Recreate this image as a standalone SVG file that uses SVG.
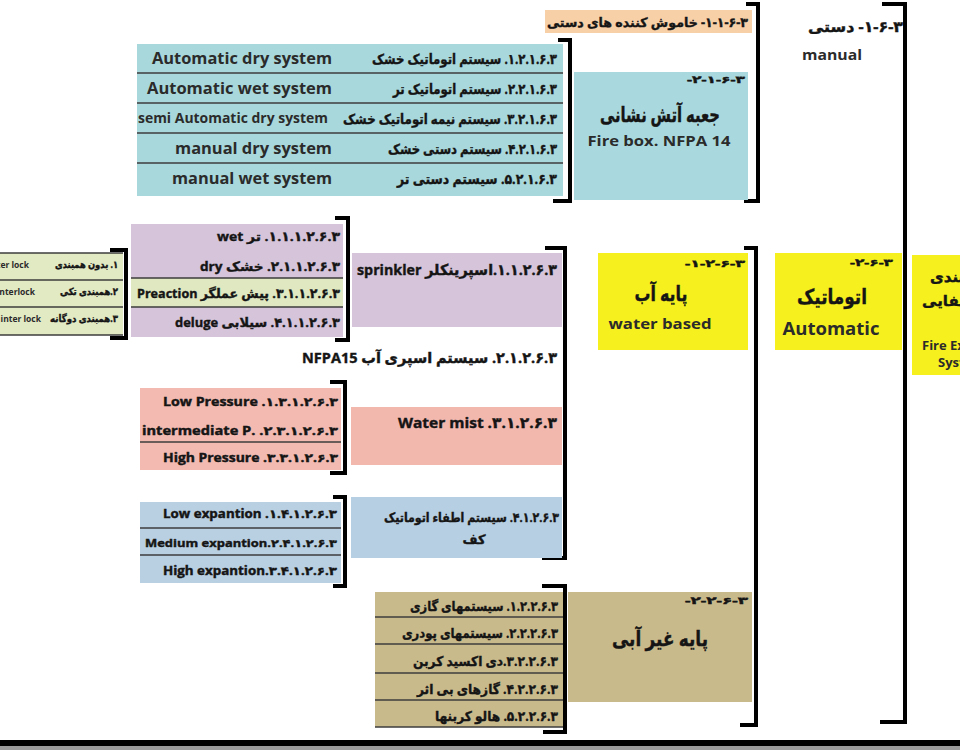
<svg xmlns="http://www.w3.org/2000/svg" width="960" height="750" viewBox="0 0 960 750">
<style>
.t{font-family:'Open Sans','DejaVu Sans',sans-serif;font-weight:700;fill:#151515;stroke:#151515;stroke-width:0.4}
.e{font-family:'Open Sans','Liberation Sans',sans-serif;font-weight:700;fill:#2b2b2b}
.br{fill:none;stroke:#000;stroke-width:4}
.dv{stroke:#3c3c3c;stroke-width:1.6}
.y{fill:#f6f01e}
</style>
<rect width="960" height="750" fill="#fff"/>
<g id="connectors">
<path class="br" d="M746 4H758V201H744"/>
<path class="br" d="M882 4H905V722H880"/>
<path class="br" d="M558 40H570V201H553"/>
<path class="br" d="M335 218H348V340H335"/>
<path class="br" d="M110 250H126V338H110"/>
<path class="br" d="M545 248H565V558H542"/>
<path class="br" d="M330 382H345V473H330"/>
<path class="br" d="M333 497H345V586H333"/>
<path class="br" d="M542 586H565V732H543"/>
<path class="br" d="M744 248H756V725H740"/>
</g>
<g id="handheld">
<rect x="545" y="10" width="207" height="23" fill="#f8d0a8"/>
<text class="t" x="748" y="27" font-size="13" text-anchor="end" textLength="201" lengthAdjust="spacingAndGlyphs">&#x202B;۳&#x200F;-۶&#x200F;-۱&#x200F;-۱&#x200F;- خاموش کننده های دستی&#x202C;</text>
</g>
<g id="manual">
<text class="t" x="903" y="32" font-size="15" text-anchor="end" textLength="95" lengthAdjust="spacingAndGlyphs">&#x202B;۳&#x200F;-۶&#x200F;-۱&#x200F;- دستی&#x202C;</text>
<text class="e" x="832" y="60" font-size="15" font-weight="600" text-anchor="middle" textLength="60" lengthAdjust="spacingAndGlyphs">manual</text>
</g>
<g id="firebox-items">
<rect x="137" y="44" width="426" height="152" fill="#a8d8dc"/>
<line class="dv" x1="137" y1="73" x2="563" y2="73"/>
<line class="dv" x1="137" y1="103" x2="563" y2="103"/>
<line class="dv" x1="137" y1="133" x2="563" y2="133"/>
<line class="dv" x1="137" y1="163" x2="563" y2="163"/>
<text class="e" x="332" y="64" font-size="16" text-anchor="end" textLength="180" lengthAdjust="spacingAndGlyphs">Automatic dry system</text>
<text class="e" x="332" y="94" font-size="16" text-anchor="end" textLength="185" lengthAdjust="spacingAndGlyphs">Automatic wet system</text>
<text class="e" x="328" y="123" font-size="13.5" text-anchor="end" textLength="190" lengthAdjust="spacingAndGlyphs">semi Automatic dry system</text>
<text class="e" x="332" y="154" font-size="16" text-anchor="end" textLength="157" lengthAdjust="spacingAndGlyphs">manual dry system</text>
<text class="e" x="332" y="184" font-size="16" text-anchor="end" textLength="160" lengthAdjust="spacingAndGlyphs">manual wet system</text>
<text class="t" x="557" y="64" font-size="14" text-anchor="end" textLength="185" lengthAdjust="spacingAndGlyphs">&#x202B;۳&#x200F;.۶&#x200F;.۱&#x200F;.۲&#x200F;.۱&#x200F;. سیستم اتوماتیک خشک&#x202C;</text>
<text class="t" x="557" y="94" font-size="14" text-anchor="end" textLength="164" lengthAdjust="spacingAndGlyphs">&#x202B;۳&#x200F;.۶&#x200F;.۱&#x200F;.۲&#x200F;.۲&#x200F;. سیستم اتوماتیک تر&#x202C;</text>
<text class="t" x="557" y="124" font-size="14" text-anchor="end" textLength="214" lengthAdjust="spacingAndGlyphs">&#x202B;۳&#x200F;.۶&#x200F;.۱&#x200F;.۲&#x200F;.۳&#x200F;. سیستم نیمه اتوماتیک خشک&#x202C;</text>
<text class="t" x="557" y="154" font-size="14" text-anchor="end" textLength="169" lengthAdjust="spacingAndGlyphs">&#x202B;۳&#x200F;.۶&#x200F;.۱&#x200F;.۲&#x200F;.۴&#x200F;. سیستم دستی خشک&#x202C;</text>
<text class="t" x="557" y="184" font-size="14" text-anchor="end" textLength="160" lengthAdjust="spacingAndGlyphs">&#x202B;۳&#x200F;.۶&#x200F;.۱&#x200F;.۲&#x200F;.۵&#x200F;. سیستم دستی تر&#x202C;</text>
</g>
<g id="firebox">
<rect x="574" y="72" width="174" height="128" fill="#a9d9df"/>
<text class="t" x="745" y="83" font-size="10" text-anchor="end" textLength="58" lengthAdjust="spacingAndGlyphs">&#x202B;۳&#x200F;-۶&#x200F;-۱&#x200F;-۲&#x200F;-&#x202C;</text>
<text class="t" x="660" y="122" font-size="21" text-anchor="middle" textLength="120" lengthAdjust="spacingAndGlyphs">جعبه آتش نشانی</text>
<text class="e" x="659" y="146" font-size="15" text-anchor="middle" textLength="143" lengthAdjust="spacingAndGlyphs">Fire box. NFPA 14</text>
</g>
<g id="interlock">
<rect x="0" y="253" width="123" height="82" fill="#e2eac4"/>
<line class="dv" x1="0" y1="253" x2="123" y2="253"/>
<line class="dv" x1="0" y1="280" x2="123" y2="280"/>
<line class="dv" x1="0" y1="307" x2="123" y2="307"/>
<line class="dv" x1="0" y1="335" x2="123" y2="335"/>
<text class="t" x="118" y="268" font-size="10" text-anchor="end" textLength="63" lengthAdjust="spacingAndGlyphs">&#x202B;۱. بدون همبندی&#x202C;</text>
<text class="t" x="118" y="295" font-size="10" text-anchor="end" textLength="58" lengthAdjust="spacingAndGlyphs">&#x202B;۲.همبندی تکی&#x202C;</text>
<text class="t" x="118" y="322" font-size="10" text-anchor="end" textLength="68" lengthAdjust="spacingAndGlyphs">&#x202B;۳.همبندی دوگانه&#x202C;</text>
<text class="e" x="29" y="268" font-size="8.5" text-anchor="end">Non inter lock</text>
<text class="e" x="35" y="295" font-size="8.5" text-anchor="end">Single interlock</text>
<text class="e" x="41" y="322" font-size="8.5" text-anchor="end">Double inter lock</text>
</g>
<g id="sprinkler-items">
<rect x="131" y="224" width="212" height="54" fill="#d5c4da"/>
<rect x="131" y="278" width="212" height="29" fill="#dfe8c0"/>
<rect x="131" y="307" width="212" height="30" fill="#d5c4da"/>
<line class="dv" x1="131" y1="278" x2="343" y2="278"/>
<line class="dv" x1="131" y1="307" x2="343" y2="307"/>
<text class="t" x="340" y="241" font-size="13" text-anchor="end" textLength="123" lengthAdjust="spacingAndGlyphs">&#x202B;۳&#x200F;.۶&#x200F;.۲&#x200F;.۱&#x200F;.۱&#x200F;.۱&#x200F;. تر  wet&#x202C;</text>
<text class="t" x="340" y="271" font-size="13" text-anchor="end" textLength="140" lengthAdjust="spacingAndGlyphs">&#x202B;۳&#x200F;.۶&#x200F;.۲&#x200F;.۱&#x200F;.۱&#x200F;.۲&#x200F;. خشک   dry&#x202C;</text>
<text class="t" x="340" y="298" font-size="13" text-anchor="end" textLength="203" lengthAdjust="spacingAndGlyphs">&#x202B;۳&#x200F;.۶&#x200F;.۲&#x200F;.۱&#x200F;.۱&#x200F;.۳&#x200F;. پیش عملگر Preaction&#x202C;</text>
<text class="t" x="340" y="327" font-size="13" text-anchor="end" textLength="165" lengthAdjust="spacingAndGlyphs">&#x202B;۳&#x200F;.۶&#x200F;.۲&#x200F;.۱&#x200F;.۱&#x200F;.۴&#x200F;. سیلابی deluge&#x202C;</text>
</g>
<g id="sprinkler">
<rect x="352" y="253" width="210" height="74" fill="#d5c4da"/>
<text class="t" x="557" y="275" font-size="15" text-anchor="end" textLength="200" lengthAdjust="spacingAndGlyphs">&#x202B;۳&#x200F;.۶&#x200F;.۲&#x200F;.۱&#x200F;.۱&#x200F;.اسپرینکلر sprinkler&#x202C;</text>
</g>
<g id="spray">
<text class="t" x="557" y="363" font-size="15" text-anchor="end" textLength="255" lengthAdjust="spacingAndGlyphs">&#x202B;۳&#x200F;.۶&#x200F;.۲&#x200F;.۱&#x200F;.۲&#x200F;. سیستم اسپری آب  NFPA15&#x202C;</text>
</g>
<g id="mist-items">
<rect x="140" y="388" width="201" height="82" fill="#f2bab1"/>
<line class="dv" x1="140" y1="442" x2="341" y2="442"/>
<text class="t" x="338" y="406" font-size="11.5" text-anchor="end" textLength="175" lengthAdjust="spacingAndGlyphs">&#x202B;۳&#x200F;.۶&#x200F;.۲&#x200F;.۱&#x200F;.۳&#x200F;.۱&#x200F;.  Low Pressure&#x202C;</text>
<text class="t" x="338" y="435" font-size="11.5" text-anchor="end" textLength="196" lengthAdjust="spacingAndGlyphs">&#x202B;۳&#x200F;.۶&#x200F;.۲&#x200F;.۱&#x200F;.۳&#x200F;.۲&#x200F;. intermediate P.&#x200E;&#x202C;</text>
<text class="t" x="338" y="462" font-size="11.5" text-anchor="end" textLength="175" lengthAdjust="spacingAndGlyphs">&#x202B;۳&#x200F;.۶&#x200F;.۲&#x200F;.۱&#x200F;.۳&#x200F;.۳&#x200F;.  High Pressure&#x202C;</text>
</g>
<g id="mist">
<rect x="351" y="407" width="211" height="58" fill="#f2b8ae"/>
<text class="t" x="557" y="428" font-size="15" text-anchor="end" textLength="159" lengthAdjust="spacingAndGlyphs">&#x202B;۳&#x200F;.۶&#x200F;.۲&#x200F;.۱&#x200F;.۳&#x200F;. Water mist&#x202C;</text>
</g>
<g id="foam-items">
<rect x="140" y="502" width="201" height="81" fill="#b9d0e3"/>
<line class="dv" x1="140" y1="528" x2="341" y2="528"/>
<line class="dv" x1="140" y1="555" x2="341" y2="555"/>
<text class="t" x="337" y="518" font-size="11.5" text-anchor="end" textLength="174" lengthAdjust="spacingAndGlyphs">&#x202B;۳&#x200F;.۶&#x200F;.۲&#x200F;.۱&#x200F;.۴&#x200F;.۱&#x200F;. Low expantion&#x202C;</text>
<text class="t" x="337" y="547" font-size="10.5" text-anchor="end" textLength="192" lengthAdjust="spacingAndGlyphs">&#x202B;۳&#x200F;.۶&#x200F;.۲&#x200F;.۱&#x200F;.۴&#x200F;.۲&#x200F;.Medium expantion&#x202C;</text>
<text class="t" x="337" y="575" font-size="11.5" text-anchor="end" textLength="174" lengthAdjust="spacingAndGlyphs">&#x202B;۳&#x200F;.۶&#x200F;.۲&#x200F;.۱&#x200F;.۴&#x200F;.۳&#x200F;.High expantion&#x202C;</text>
</g>
<g id="foam">
<rect x="351" y="497" width="211" height="61" fill="#b7cfe2"/>
<text class="t" x="559" y="522" font-size="13" text-anchor="end" textLength="175" lengthAdjust="spacingAndGlyphs">&#x202B;۳&#x200F;.۶&#x200F;.۲&#x200F;.۱&#x200F;.۴&#x200F;. سیستم اطفاء اتوماتیک&#x202C;</text>
<text class="t" x="474" y="544" font-size="13" text-anchor="middle">کف</text>
</g>
<g id="nonwater-items">
<rect x="375" y="592" width="188" height="135" fill="#c9ba8c"/>
<line class="dv" x1="375" y1="617" x2="563" y2="617"/>
<line class="dv" x1="375" y1="644" x2="563" y2="644"/>
<line class="dv" x1="375" y1="673" x2="563" y2="673"/>
<line class="dv" x1="375" y1="700" x2="563" y2="700"/>
<line class="dv" x1="375" y1="727" x2="563" y2="727"/>
<text class="t" x="558" y="611" font-size="13.5" text-anchor="end" textLength="148" lengthAdjust="spacingAndGlyphs">&#x202B;۳&#x200F;.۶&#x200F;.۲&#x200F;.۲&#x200F;.۱&#x200F;. سیستمهای گازی&#x202C;</text>
<text class="t" x="558" y="638" font-size="13.5" text-anchor="end" textLength="156" lengthAdjust="spacingAndGlyphs">&#x202B;۳&#x200F;.۶&#x200F;.۲&#x200F;.۲&#x200F;.۲&#x200F;. سیستمهای پودری&#x202C;</text>
<text class="t" x="558" y="666" font-size="13.5" text-anchor="end" textLength="145" lengthAdjust="spacingAndGlyphs">&#x202B;۳&#x200F;.۶&#x200F;.۲&#x200F;.۲&#x200F;.۳&#x200F;.دی اکسید کربن&#x202C;</text>
<text class="t" x="558" y="694" font-size="13.5" text-anchor="end" textLength="141" lengthAdjust="spacingAndGlyphs">&#x202B;۳&#x200F;.۶&#x200F;.۲&#x200F;.۲&#x200F;.۴&#x200F;. گازهای بی اثر&#x202C;</text>
<text class="t" x="558" y="721" font-size="13.5" text-anchor="end" textLength="123" lengthAdjust="spacingAndGlyphs">&#x202B;۳&#x200F;.۶&#x200F;.۲&#x200F;.۲&#x200F;.۵&#x200F;. هالو کربنها&#x202C;</text>
</g>
<g id="nonwater">
<rect x="568" y="592" width="184" height="110" fill="#c9ba8c"/>
<text class="t" x="748" y="604" font-size="10" text-anchor="end" textLength="63" lengthAdjust="spacingAndGlyphs">&#x202B;۳&#x200F;-۶&#x200F;-۲&#x200F;-۲&#x200F;-&#x202C;</text>
<text class="t" x="660" y="646" font-size="21" text-anchor="middle" textLength="96" lengthAdjust="spacingAndGlyphs">پایه غیر آبی</text>
</g>
<g id="waterbased">
<rect class="y" x="598" y="253" width="150" height="97"/>
<text class="t" x="745" y="267" font-size="10" text-anchor="end" textLength="60" lengthAdjust="spacingAndGlyphs">&#x202B;۳&#x200F;-۶&#x200F;-۲&#x200F;-۱&#x200F;-&#x202C;</text>
<text class="t" x="661" y="301" font-size="21" text-anchor="middle" textLength="53" lengthAdjust="spacingAndGlyphs">پایه آب</text>
<text class="e" x="660" y="329" font-size="15" font-weight="600" text-anchor="middle" textLength="103" lengthAdjust="spacingAndGlyphs">water based</text>
</g>
<g id="automatic">
<rect class="y" x="775" y="253" width="127" height="97"/>
<text class="t" x="893" y="266" font-size="10" text-anchor="end" textLength="43" lengthAdjust="spacingAndGlyphs">&#x202B;۳&#x200F;-۶&#x200F;-۲&#x200F;-&#x202C;</text>
<text class="t" x="832" y="304" font-size="21" text-anchor="middle" textLength="70" lengthAdjust="spacingAndGlyphs">اتوماتیک</text>
<text class="e" x="831" y="335" font-size="17" font-weight="600" text-anchor="middle" textLength="97" lengthAdjust="spacingAndGlyphs">Automatic</text>
</g>
<g id="fire-extinguishing-systems">
<rect class="y" x="912" y="255" width="48" height="120"/>
<text class="t" x="930" y="282" font-size="15" text-anchor="start">&#x202B;دسته بندی&#x202C;</text>
<text class="t" x="922" y="306" font-size="15" text-anchor="start">&#x202B;سیستمهای اطفایی&#x202C;</text>
<text class="e" x="922" y="350" font-size="13" font-weight="600" text-anchor="start">Fire Extinguishing</text>
<text class="e" x="938" y="367" font-size="13" font-weight="600" text-anchor="start">System</text>
</g>
<rect x="0" y="740" width="960" height="6" fill="#000"/>
<rect x="0" y="746" width="960" height="4" fill="#9a9a9a"/>
</svg>
